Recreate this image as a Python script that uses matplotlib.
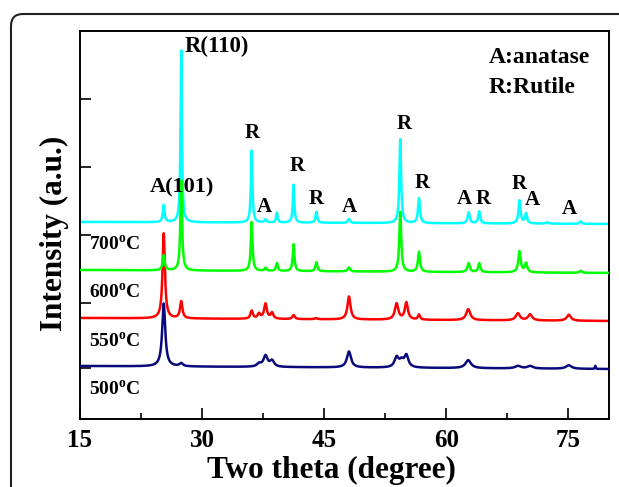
import numpy as np
import matplotlib
matplotlib.use("Agg")
import matplotlib.pyplot as plt
from matplotlib.patches import FancyBboxPatch

plt.rcParams['font.family'] = ['Liberation Serif', 'DejaVu Serif']
plt.rcParams['font.weight'] = 'bold'
plt.rcParams['mathtext.fontset'] = 'custom'
plt.rcParams['mathtext.rm'] = 'Liberation Serif:bold'
plt.rcParams['mathtext.bf'] = 'Liberation Serif:bold'

# -----------------------------
# Peak tables (2theta, height, FWHM)
# -----------------------------
samples = ["700", "600", "550", "500"]
colors = ["#00FFFF", "#00FF00", "#FF0000", "#0A0A7A"]
baseline_left = [197, 149, 101, 53]
baseline_right = [195, 146, 98, 50]

pos_700 = [25.3, 27.45, 36.1, 37.8, 39.2, 41.25, 44.05, 48.05, 54.35, 56.65, 62.75, 64.05, 69.0, 69.8, 72.4, 76.5]
hgt_700 = [17, 172, 72, 3, 10, 38, 11, 4, 84, 25, 11, 12, 23, 10, 1.5, 2.5]
wid_700 = [0.25, 0.2, 0.22, 0.3, 0.22, 0.22, 0.25, 0.3, 0.25, 0.28, 0.3, 0.28, 0.3, 0.3, 0.3, 0.3]

pos_600 = [25.3, 27.45, 36.1, 37.8, 39.2, 41.25, 44.05, 48.05, 54.35, 56.65, 62.75, 64.05, 69.0, 69.8, 76.5]
hgt_600 = [15, 90, 49, 3, 8, 27, 9, 4, 60, 20, 9, 9, 21, 9, 2]
wid_600 = [0.3, 0.25, 0.25, 0.3, 0.25, 0.25, 0.28, 0.35, 0.28, 0.3, 0.35, 0.3, 0.35, 0.35, 0.35]

pos_550 = [25.3, 27.45, 36.1, 37.0, 37.8, 38.6, 41.25, 44.0, 48.05, 53.9, 55.1, 56.65, 62.7, 68.8, 70.3, 75.05]
hgt_550 = [85, 17, 8, 5, 15, 6, 4, 1, 23, 16, 17, 5, 11, 7, 6, 6]
wid_550 = [0.35, 0.35, 0.35, 0.4, 0.4, 0.4, 0.35, 0.4, 0.45, 0.5, 0.45, 0.3, 0.6, 0.6, 0.6, 0.6]

pos_500 = [25.3, 27.45, 37.0, 37.8, 38.6, 48.05, 53.9, 54.5, 55.1, 62.7, 68.8, 70.3, 75.05, 78.3]
hgt_500 = [63, 3, 3, 11, 6, 16, 10, 6, 12, 8, 2.5, 2.5, 3.5, 3]
wid_500 = [0.45, 0.5, 0.6, 0.6, 0.6, 0.6, 0.6, 0.6, 0.6, 0.8, 0.8, 0.8, 0.8, 0.1]

peaks = [(pos_700, hgt_700, wid_700), (pos_600, hgt_600, wid_600),
         (pos_550, hgt_550, wid_550), (pos_500, hgt_500, wid_500)]

# phase labels: text, 2theta, y
phase_text = ["R(110)", "A(101)", "R", "A", "R", "R", "A", "R", "R", "A", "R", "R", "A", "A"]
phase_x = [27.9, 27.5, 36.15, 37.7, 41.7, 44.0, 48.1, 54.8, 57.0, 62.2, 64.5, 68.9, 70.6, 75.1]
phase_y = [372, 231, 286, 212, 253, 220, 212, 295, 236, 220, 220, 235, 219, 210]

temp_y = [174, 126, 77, 29]


def pattern(x, pos, hgt, wid):
    y = np.zeros_like(x)
    for p, h, w in zip(pos, hgt, wid):
        y += h / (1 + ((x - p) / (w / 2)) ** 2)
    return y


two_theta = np.linspace(15, 80, 6500)

fig = plt.figure(figsize=(6.19, 4.87), dpi=100)
ax = fig.add_axes([0.129, 0.1396, 0.855, 0.797])

zorders = [1, 3, 2, 4]
for i, (pos, hgt, wid) in enumerate(peaks):
    base = np.interp(two_theta, [15, 80], [baseline_left[i], baseline_right[i]])
    ax.plot(two_theta, base + pattern(two_theta, pos, hgt, wid),
            color=colors[i], lw=1.8, zorder=zorders[i])

for t, x, y in zip(phase_text, phase_x, phase_y):
    if t == "R(110)":
        ax.text(x, y, t, ha='left', va='center', fontsize=16.5, fontweight='bold')
    elif t == "A(101)":
        ax.text(x, y, t, ha='center', va='center', fontsize=16, fontweight='bold')
    else:
        ax.text(x, y, t, ha='center', va='center', fontsize=15, fontweight='bold')

ax.text(65.25, 361, "A:anatase", ha='left', va='center', fontsize=17, fontweight='bold')
ax.text(65.25, 331, "R:Rutile", ha='left', va='center', fontsize=17, fontweight='bold')

for s, y in zip(samples, temp_y):
    ax.text(16.1, y, s + r"$^{\mathbf{o}}$C", ha='left', va='center', fontsize=14, fontweight='bold')

ax.set_xlim(15, 80)
ax.set_ylim(0, 388)
ax.set_xticks([15, 30, 45, 60, 75])
ax.set_xticks([22.5, 37.5, 52.5, 67.5], minor=True)
ax.set_yticks([51, 116, 184, 252, 320])
ax.set_yticklabels([])
ax.tick_params(axis='both', direction='in', length=8, width=1.2)
ax.tick_params(axis='x', which='minor', direction='in', length=4, width=1.2)
ax.tick_params(axis='x', labelsize=18, pad=7)
for lab in ax.get_xticklabels():
    lab.set_fontweight('bold')
for sp in ax.spines.values():
    sp.set_linewidth(1.4)

ax.set_xlabel("Two theta (degree)", fontsize=22.5, fontweight='bold', labelpad=0)
ax.xaxis.set_label_coords(0.475, -0.095)
ax.set_ylabel("Intensity (a.u.)", fontsize=22.5, fontweight='bold')
ax.yaxis.set_label_coords(-0.02, 0.477)

# rounded outer frame
frame = FancyBboxPatch((0.11, -0.6), 7.0, 4.73 + 0.6,
                       boxstyle="round,pad=0,rounding_size=0.12",
                       transform=fig.dpi_scale_trans, fill=False,
                       edgecolor="#222222", lw=1.5, clip_on=False)
fig.patches.append(frame)

fig.savefig("out.png", dpi=100)
